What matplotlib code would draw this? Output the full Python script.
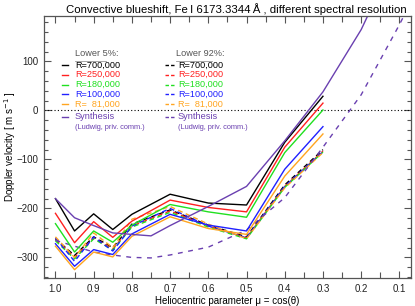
import matplotlib.pyplot as plt
import numpy as np

plt.rcParams['font.family'] = ['Liberation Sans', 'DejaVu Sans']

# heliocentric positions of the observations
mu_obs = [1.0, 0.95, 0.9, 0.85, 0.8, 0.7, 0.6, 0.5, 0.4, 0.3]

# lower 5% of the line (solid)
low5_700k = [-180, -246, -211, -243, -212, -171, -189, -193, -65, 29]
low5_250k = [-210, -270, -227, -259, -226, -183, -198, -207, -75, 15]
low5_180k = [-231, -289, -246, -269, -234, -192, -207, -218, -86, 1]
low5_100k = [-272, -318, -284, -294, -252, -212, -234, -246, -120, -33]
low5_81k = [-277, -325, -289, -299, -257, -217, -241, -253, -134, -48]

# lower 92% of the line (dashed)
low92_700k = [-262, -296, -258, -280, -232, -203, -234, -258, -152, -80]
low92_250k = [-264, -300, -260, -283, -236, -205, -236, -260, -155, -83]
low92_180k = [-266, -303, -262, -285, -238, -208, -238, -262, -157, -85]
low92_100k = [-260, -308, -258, -287, -236, -200, -236, -260, -155, -84]
low92_81k = [-258, -300, -250, -280, -222, -196, -232, -262, -158, -86]

# synthesis (Ludwig, priv. comm.)
mu_syn = [1.0, 0.95, 0.9, 0.85, 0.8, 0.75, 0.7, 0.6, 0.5, 0.4, 0.3, 0.2, 0.1]
syn_low5 = [-180, -219, -235, -250, -253, -256, -235, -196, -155, -62, 38, 165, 330]
mu_syn92 = [1.0, 0.95, 0.9, 0.85, 0.8, 0.75, 0.7, 0.6, 0.5, 0.4, 0.3, 0.2, 0.1, 0.0]
syn_low92 = [-265, -277, -289, -295, -300, -301, -295, -279, -244, -178, -75, 32, 175, 330]

labels = ['R=700,000', 'R=250,000', 'R=180,000', 'R=100,000', 'R=  81,000']
colors = ['#000000', '#ff2020', '#20e020', '#2020ff', '#ffa520']
purple = '#6a40b0'
grey = '#555555'

low5 = [low5_700k, low5_250k, low5_180k, low5_100k, low5_81k]
low92 = [low92_700k, low92_250k, low92_180k, low92_100k, low92_81k]

fig = plt.figure(figsize=(4.15, 3.06), dpi=100)
ax = fig.add_axes([0.106, 0.0915, 0.884, 0.8565])

ax.axhline(0, color='k', ls=(0, (1, 2)), lw=0.8)

for v, c in zip(low92, colors):
    ax.plot(mu_obs, v, color=c, lw=1, dashes=(3.5, 2.5))
ax.plot(mu_syn92, syn_low92, color=purple, lw=1, dashes=(3.5, 4))
for v, c in zip(low5, colors):
    ax.plot(mu_obs, v, color=c, lw=1)
ax.plot(mu_syn, syn_low5, color=purple, lw=1)

ax.set_xlim(1.03, 0.07)
ax.set_ylim(-342, 193)
ax.set_xticks(np.arange(1.0, 0.05, -0.1))
ax.set_xticklabels(['1.0', '0.9', '0.8', '0.7', '0.6', '0.5', '0.4', '0.3', '0.2', '0.1'])
ax.set_xticks(np.arange(0.95, 0.05, -0.1), minor=True)
ax.set_yticks([-300, -200, -100, 0, 100])
ax.set_yticklabels(['\u2212300', '\u2212200', '\u2212100', '0', '100'])
ax.set_yticks(np.arange(-340, 200, 20), minor=True)
ax.tick_params(which='both', direction='in', top=True, right=True,
               color=grey, labelsize=7, labelcolor='#222222', pad=4)
ax.tick_params(which='major', length=5, width=0.8)
ax.tick_params(which='minor', length=3, width=0.8)
ax.tick_params(axis='x', which='minor', length=4)
for s in ax.spines.values():
    s.set_color(grey)
    s.set_linewidth(0.9)

ax.set_xlabel('Heliocentric parameter \u03bc = cos(\u03b8)', fontsize=7, labelpad=2)
ax.set_ylabel('Doppler velocity [ m s$^{-1}$ ]', fontsize=7)
ax.yaxis.set_label_coords(-0.072, 0.5)
fig.text(0.569, 0.972, 'Convective blueshift, Fe\u2009I 6173.3344\u2009\u00c5 , different spectral resolution',
         ha='center', va='center', fontsize=8.2)

# hand made legend in axes coordinates
rows = [0.813, 0.776, 0.738, 0.701, 0.663]
ax.text(0.0845, 0.855, 'Lower 5%:', transform=ax.transAxes, fontsize=6.6, color=grey, va='center')
ax.text(0.360, 0.855, 'Lower 92%:', transform=ax.transAxes, fontsize=6.6, color=grey, va='center')
ax.plot([0.0845, 0.170], [0.829, 0.829], transform=ax.transAxes, color='#999999', lw=0.6)
ax.plot([0.360, 0.458], [0.829, 0.829], transform=ax.transAxes, color='#999999', lw=0.6)
for y, lab, c in zip(rows, labels, colors):
    ax.plot([0.049, 0.065], [y, y], transform=ax.transAxes, color=c, lw=1)
    ax.plot([0.330, 0.358], [y, y], transform=ax.transAxes, color=c, lw=1, dashes=(2.5, 1.5))
    ax.text(0.0845, y, lab, transform=ax.transAxes, fontsize=6.6, color=c, va='center')
    ax.text(0.365, y, lab, transform=ax.transAxes, fontsize=6.6, color=c, va='center')
ax.plot([0.049, 0.065], [0.616, 0.616], transform=ax.transAxes, color=purple, lw=1)
ax.plot([0.330, 0.358], [0.616, 0.616], transform=ax.transAxes, color=purple, lw=1, dashes=(2.5, 1.5))
for x in [0.0845, 0.365]:
    ax.text(x, 0.616, 'Synthesis', transform=ax.transAxes, fontsize=6.6, color=purple, va='center')
    ax.text(x, 0.575, '(Ludwig, priv. comm.)', transform=ax.transAxes, fontsize=5.3, color=purple, va='center')

fig.savefig('out.png', dpi=100)
